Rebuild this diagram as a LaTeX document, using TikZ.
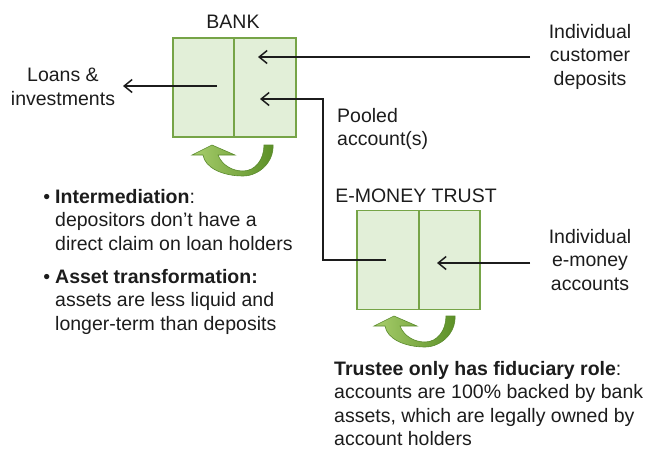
\documentclass[tikz,border=0pt]{standalone}
\usepackage{fontspec}
\setmainfont{Liberation Sans}
\usetikzlibrary{arrows.meta}

\definecolor{boxfill}{HTML}{E2EFD8}
\definecolor{boxline}{HTML}{76A447}
\definecolor{turnlight}{HTML}{A8CE6C}
\definecolor{turndark}{HTML}{5B8F26}
\definecolor{turnedge}{HTML}{5A8A2C}
\definecolor{ink}{HTML}{1C1C1C}

\tikzset{
  lbl/.style={inner sep=0pt, text=ink, font=\fontsize{19.5}{23.5}\selectfont},
  half/.style={draw=boxline, line width=1.8pt, fill=boxfill, minimum width=61.5pt, minimum height=99pt, inner sep=0pt},
  flow/.style={draw=ink, line width=1.5pt, -{Straight Barb[length=8pt,width=13pt,line width=1.5pt]}},
  plain/.style={draw=ink, line width=1.5pt},
  uturn/.pic={
    \path[left color=turnlight, right color=turndark, draw=turnedge, line width=0.6pt]
      (30,-15) .. controls (31,2) and (16,16) .. (0,16)
      .. controls (-20,16) and (-38,8) .. (-40,-5)
      -- (-51,-5) -- (-31,-15) -- (-8,-5) -- (-25,-5)
      .. controls (-21,5) and (-11,11) .. (0,11)
      .. controls (12,11) and (21,0) .. (21,-15) -- cycle;
  }
}

\begin{document}
\begin{tikzpicture}[x=1pt, y=-1pt]
\useasboundingbox (0,0) rectangle (646,448);

% Bank balance sheet: assets | liabilities
\node[half] (bankA) at (203.5,87.5) {};
\node[half] (bankL) at (265,87.5) {};
\node[lbl, anchor=north] (bankT) at (233,15) {BANK};
\pic at (243,160) {uturn};

% E-money trust balance sheet
\node[half] (trustA) at (388,260) {};
\node[half] (trustL) at (449.5,260) {};
\node[lbl, anchor=north] (trustT) at (416,189) {E-MONEY TRUST};
\pic at (425,331) {uturn};

% Labels
\node[lbl, anchor=north, align=center] (loans) at (63,68) {Loans \&\\investments};
\node[lbl, anchor=north, align=center] (cust) at (590,24) {Individual\\customer\\deposits};
\node[lbl, anchor=north west, align=left] (pooled) at (337,108) {Pooled\\account(s)};
\node[lbl, anchor=north, align=center] (emoney) at (590,229) {Individual\\e-money\\accounts};

\node[lbl, anchor=north west, align=left] (inter) at (55,189)
  {\llap{\textbullet\hspace{5pt}}\textbf{Intermediation}:\\depositors don’t have a\\direct claim on loan holders};
\node[lbl, anchor=north west, align=left] (asset) at (55,269)
  {\llap{\textbullet\hspace{5pt}}\textbf{Asset transformation:}\\assets are less liquid and\\longer-term than deposits};
\node[lbl, anchor=north west, align=left] (trustee) at (334,361)
  {\textbf{Trustee only has fiduciary role}:\\accounts are 100\% backed by bank\\assets, which are legally owned by\\account holders};

% Connector end points
\coordinate (loanSrc) at (217,86);
\coordinate (loanTip) at (123,86);
\coordinate (custSrc) at (530,57);
\coordinate (custTip) at (258,57);
\coordinate (poolSrc) at (386,260);
\coordinate (poolTip) at (260,99);
\coordinate (poolX) at (323,0);
\coordinate (emSrc) at (530,263);
\coordinate (emTip) at (437,263);

% Flows
\draw[flow] (loanSrc) -- (loanTip);
\draw[flow] (custSrc) -- (custTip);
\draw[flow] (poolSrc) -- (poolX |- poolSrc) -- (poolX |- poolTip) -- (poolTip);
\draw[flow] (emSrc) -- (emTip);
\end{tikzpicture}
\end{document}
